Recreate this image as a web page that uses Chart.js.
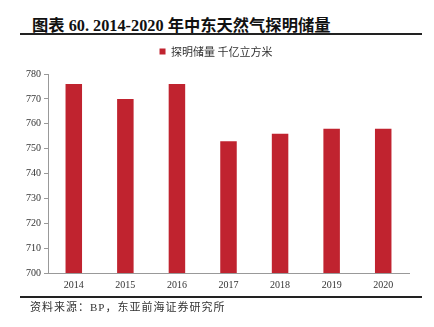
<!DOCTYPE html>
<html>
<head>
<meta charset="utf-8">
<script src="https://cdn.jsdelivr.net/npm/chart.js@4.4.0/dist/chart.umd.min.js"></script>
<style>
  body { margin: 0; background: #fff; width: 434px; height: 327px; position: relative; overflow: hidden; }
  #title { position: absolute; left: 32px; top: 12px; font: bold 16.3px "Liberation Serif", "Noto Sans CJK SC", serif; color: #111; white-space: nowrap; }
  #rule1 { position: absolute; left: 20px; width: 402px; top: 33px; height: 2px; background: #222; }
  #rule2 { position: absolute; left: 20px; width: 402px; top: 296px; height: 2px; background: #222; }
  #source { position: absolute; left: 30px; top: 298px; font: 11px "Liberation Serif", "Noto Sans CJK SC", serif; letter-spacing: 1px; color: #333; white-space: nowrap; }
  #wrap { position: absolute; left: 0; top: 38px; width: 434px; height: 264px; }
</style>
</head>
<body>
<div id="title">图表 60. 2014-2020 年中东天然气探明储量</div>
<div id="rule1"></div>
<div id="wrap"><canvas id="chart"></canvas></div>
<div id="rule2"></div>
<div id="source">资料来源：BP，东亚前海证券研究所</div>
<script>
// Data
const years = ['2014', '2015', '2016', '2017', '2018', '2019', '2020'];
const reserves = [776, 770, 776, 753, 756, 758, 758];
const series_label = '探明储量 千亿立方米';
const bar_color = '#C0232F';

// push the plot area down a bit below the legend
const legendGap = {
  id: 'legendGap',
  beforeInit(chart) {
    const fit = chart.legend.fit;
    chart.legend.fit = function () {
      fit.bind(chart.legend)();
      this.height += 7;
    };
  }
};

const ctx = document.getElementById('chart');
const chart = new Chart(ctx, {
  type: 'bar',
  plugins: [legendGap],
  data: {
    labels: years,
    datasets: [
      {
        label: series_label,
        data: reserves,
        backgroundColor: bar_color,
        categoryPercentage: 1.0,
        barPercentage: 0.32,
      }
    ]
  },
  options: {
    responsive: true,
    maintainAspectRatio: false,
    animation: false,
    layout: {
      padding: { left: 23, right: 25, top: 2, bottom: 5 }
    },
    scales: {
      x: {
        grid: { display: false, drawTicks: false, tickLength: 0 },
        border: { color: '#999', width: 1 },
        ticks: {
          color: '#333',
          font: { family: 'Liberation Serif', size: 10 },
          padding: 6,
        }
      },
      y: {
        min: 700,
        max: 780,
        grid: {
          drawOnChartArea: false,
          drawTicks: true,
          tickLength: 4,
          color: '#999',
        },
        border: { color: '#999', width: 1 },
        ticks: {
          stepSize: 10,
          color: '#333',
          font: { family: 'Liberation Serif', size: 10 },
          padding: 3,
        }
      }
    },
    plugins: {
      legend: {
        display: true,
        position: 'top',
        align: 'center',
        labels: {
          boxWidth: 6,
          boxHeight: 6,
          color: '#333',
          font: { family: 'Noto Sans CJK SC', size: 11 },
          padding: 6,
        }
      },
      tooltip: { enabled: false }
    }
  }
});
</script>
</body>
</html>
